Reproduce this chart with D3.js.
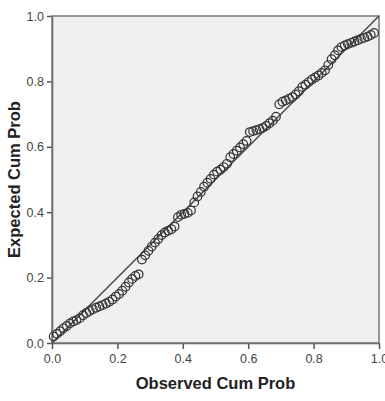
<!DOCTYPE html>
<html>
<head>
<meta charset="utf-8">
<script src="https://d3js.org/d3.v7.min.js"></script>
<style>
  body { margin: 0; background: #fff; }
  text { font-family: "Liberation Sans", Arial, sans-serif; }
</style>
</head>
<body>
<div id="chart"></div>
<script>
// observed cumulative probability (x) and expected cumulative probability (y)
const observedCumProb = [
  0.005, 0.015, 0.025, 0.035, 0.045, 0.055, 0.065, 0.075, 0.085, 0.095,
  0.105, 0.115, 0.125, 0.135, 0.145, 0.155, 0.165, 0.175, 0.185, 0.195,
  0.205, 0.215, 0.225, 0.235, 0.245, 0.255, 0.265, 0.275, 0.285, 0.295,
  0.305, 0.315, 0.325, 0.335, 0.345, 0.355, 0.365, 0.375, 0.385, 0.395,
  0.405, 0.415, 0.425, 0.435, 0.445, 0.455, 0.465, 0.475, 0.485, 0.495,
  0.505, 0.515, 0.525, 0.535, 0.545, 0.555, 0.565, 0.575, 0.585, 0.595,
  0.605, 0.615, 0.625, 0.635, 0.645, 0.655, 0.665, 0.675, 0.685, 0.695,
  0.705, 0.715, 0.725, 0.735, 0.745, 0.755, 0.765, 0.775, 0.785, 0.795,
  0.805, 0.815, 0.825, 0.835, 0.845, 0.855, 0.865, 0.875, 0.885, 0.895,
  0.905, 0.915, 0.925, 0.935, 0.945, 0.955, 0.965, 0.975, 0.985
];
const expectedCumProb = [
  0.020, 0.028, 0.036, 0.045, 0.052, 0.060, 0.066, 0.070, 0.076, 0.085,
  0.092, 0.098, 0.103, 0.108, 0.112, 0.116, 0.121, 0.126, 0.133, 0.142,
  0.150, 0.160, 0.172, 0.185, 0.196, 0.205, 0.210, 0.255, 0.268, 0.282,
  0.295, 0.307, 0.318, 0.330, 0.338, 0.343, 0.348, 0.356, 0.385, 0.392,
  0.395, 0.398, 0.405, 0.430, 0.448, 0.462, 0.478, 0.490, 0.502, 0.515,
  0.524, 0.530, 0.538, 0.548, 0.568, 0.578, 0.588, 0.598, 0.608, 0.618,
  0.645, 0.648, 0.651, 0.654, 0.658, 0.664, 0.672, 0.680, 0.692, 0.730,
  0.738, 0.742, 0.747, 0.752, 0.760, 0.770, 0.783, 0.790, 0.798, 0.806,
  0.812, 0.818, 0.826, 0.834, 0.850, 0.868, 0.880, 0.895, 0.905, 0.910,
  0.914, 0.918, 0.922, 0.926, 0.930, 0.933, 0.937, 0.942, 0.948
];
const tickValues = [0, 0.2, 0.4, 0.6, 0.8, 1.0];
const diagonal = [0, 1];

const W = 385, H = 401;
const margin = {top: 16, right: 6, bottom: 58, left: 52};
const width = W - margin.left - margin.right,
      height = H - margin.top - margin.bottom;

const svg = d3.select("#chart").append("svg")
    .attr("width", W)
    .attr("height", H);

const g = svg.append("g")
    .attr("transform", "translate(" + margin.left + "," + margin.top + ")");

const x = d3.scaleLinear().domain([0, 1]).range([0, width]);
const y = d3.scaleLinear().domain([0, 1]).range([height, 0]);

// plot background
g.append("rect")
    .attr("width", width)
    .attr("height", height)
    .attr("fill", "#f0f0f0");

// axes
const xAxis = g.append("g")
    .attr("transform", "translate(0," + height + ")")
    .call(d3.axisBottom(x).tickValues(tickValues).tickFormat(d3.format(".1f")).tickSize(6).tickSizeOuter(0));
const yAxis = g.append("g")
    .call(d3.axisLeft(y).tickValues(tickValues).tickFormat(d3.format(".1f")).tickSize(5).tickSizeOuter(0));

[xAxis, yAxis].forEach(function(a) {
    a.select(".domain").attr("stroke", "#555").attr("stroke-width", 1.5);
    a.selectAll(".tick line").attr("stroke", "#555").attr("stroke-width", 1.5);
    a.selectAll(".tick text").attr("fill", "#444").style("font-size", "12.5px");
});
xAxis.selectAll(".tick text").attr("dy", "0.9em");

// frame on top and right
g.append("rect")
    .attr("width", width)
    .attr("height", height)
    .attr("fill", "none")
    .attr("stroke", "#777")
    .attr("stroke-width", 1.5);

// reference line
g.append("line")
    .attr("x1", x(diagonal[0])).attr("y1", y(diagonal[0]))
    .attr("x2", x(diagonal[1])).attr("y2", y(diagonal[1]))
    .attr("stroke", "#444")
    .attr("stroke-width", 1.5);

// points
const pts = observedCumProb.map(function(d, i) { return {o: d, e: expectedCumProb[i]}; });
g.selectAll("circle.pt")
    .data(pts)
    .enter().append("circle")
    .attr("class", "pt")
    .attr("cx", function(d) { return x(d.o); })
    .attr("cy", function(d) { return y(d.e); })
    .attr("r", 4.3)
    .attr("fill", "none")
    .attr("stroke", "#333")
    .attr("stroke-width", 1.2);

// axis titles
svg.append("text")
    .attr("x", margin.left + width / 2)
    .attr("y", 389)
    .attr("text-anchor", "middle")
    .style("font-size", "16.5px")
    .style("font-weight", "bold")
    .attr("fill", "#222")
    .text("Observed Cum Prob");

svg.append("text")
    .attr("transform", "translate(20," + (margin.top + height / 2) + ") rotate(-90)")
    .attr("text-anchor", "middle")
    .style("font-size", "16.5px")
    .style("font-weight", "bold")
    .attr("fill", "#222")
    .text("Expected Cum Prob");
</script>
</body>
</html>
